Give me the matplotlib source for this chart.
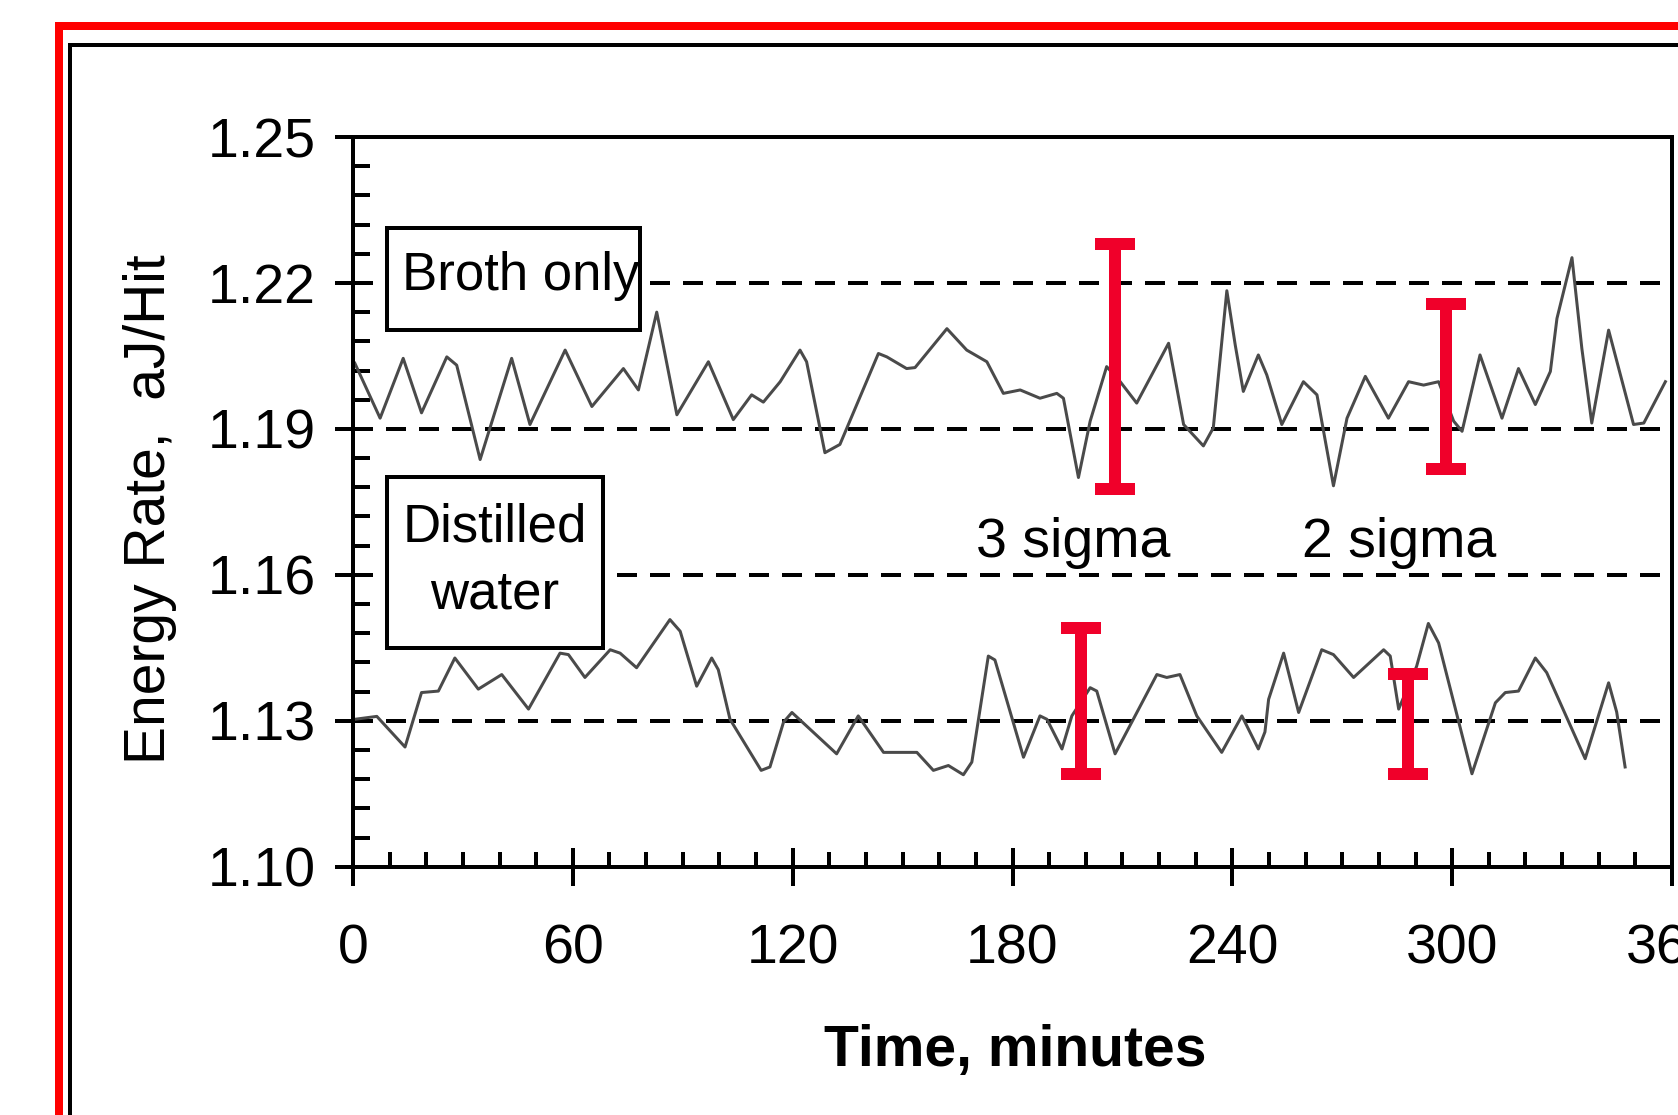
import numpy as np
import matplotlib
matplotlib.use("Agg")
import matplotlib.pyplot as plt
from matplotlib.patches import Rectangle

plt.rcParams["font.family"] = ["Liberation Sans", "DejaVu Sans"]
plt.rcParams["lines.scale_dashes"] = False

# Broth only trace (minutes, aJ/Hit)
broth_t = [0.5, 7.4, 13.7, 18.7, 25.6, 28.3, 34.7, 43.3, 48.3, 57.9, 65.2, 73.8,
           77.9, 82.9, 88.4, 97.0, 103.8, 108.8, 112.0, 116.6, 122.0, 123.8, 128.8,
           132.9, 143.4, 145.7, 151.1, 153.4, 162.1, 167.5, 173.0, 177.5, 182.1,
           187.5, 192.1, 193.9, 198.0, 201.2, 205.7, 209.4, 213.9, 222.6, 226.7,
           232.1, 234.8, 238.5, 240.8, 243.0, 247.1, 249.4, 253.5, 259.4, 263.1,
           267.6, 271.3, 276.3, 282.6, 288.1, 292.2, 296.3, 300.4, 302.7, 307.6,
           313.6, 318.1, 322.7, 326.8, 328.6, 332.7, 335.4, 338.1, 342.7, 349.5,
           352.3, 358.2]
broth_v = [1.2035, 1.1922, 1.2045, 1.1933, 1.2048, 1.2031, 1.1837, 1.2045, 1.1909,
           1.2062, 1.1946, 1.2024, 1.1980, 1.2140, 1.1929, 1.2038, 1.1919, 1.1970,
           1.1955, 1.1997, 1.2062, 1.2038, 1.1851, 1.1868, 1.2055, 1.2048, 1.2024,
           1.2026, 1.2106, 1.2062, 1.2038, 1.1973, 1.1980, 1.1963, 1.1973, 1.1963,
           1.1800, 1.1916, 1.2028, 1.1997, 1.1953, 1.2076, 1.1909, 1.1865, 1.1902,
           1.2184, 1.2072, 1.1977, 1.2052, 1.2011, 1.1909, 1.1997, 1.1970, 1.1783,
           1.1922, 1.2008, 1.1922, 1.1997, 1.1990, 1.1997, 1.1916, 1.1895, 1.2052,
           1.1922, 1.2024, 1.1950, 1.2018, 1.2127, 1.2252, 1.2065, 1.1912, 1.2103,
           1.1909, 1.1912, 1.1997]

# Distilled water trace
water_t = [0.5, 6.5, 14.2, 18.7, 23.3, 27.8, 34.2, 40.6, 47.9, 56.5, 58.8, 63.3,
           70.2, 72.9, 77.4, 86.5, 89.3, 93.8, 97.9, 99.7, 102.9, 111.4, 113.8,
           117.5, 119.8, 132.0, 137.9, 144.8, 153.9, 158.4, 162.5, 166.6, 168.9,
           173.4, 175.2, 183.0, 187.5, 189.4, 193.5, 196.2, 201.2, 203.0, 208.0,
           219.4, 222.1, 225.7, 230.3, 237.1, 242.6, 247.1, 248.9, 249.9, 254.0,
           258.1, 264.4, 267.6, 273.1, 281.3, 283.1, 285.4, 290.3, 293.5, 296.3,
           305.4, 311.8, 314.5, 318.1, 322.7, 325.8, 336.3, 342.7, 344.9, 347.2]
water_v = [1.1303, 1.1309, 1.1246, 1.1358, 1.1361, 1.1429, 1.1365, 1.1395, 1.1324,
           1.1439, 1.1436, 1.1389, 1.1446, 1.1439, 1.1409, 1.1508, 1.1484, 1.1371,
           1.1429, 1.1405, 1.1303, 1.1198, 1.1205, 1.1297, 1.1317, 1.1232, 1.1310,
           1.1235, 1.1235, 1.1198, 1.1208, 1.1189, 1.1215, 1.1433, 1.1425, 1.1225,
           1.1310, 1.1303, 1.1242, 1.1310, 1.1368, 1.1361, 1.1232, 1.1395, 1.1389,
           1.1395, 1.1310, 1.1235, 1.1310, 1.1242, 1.1277, 1.1344, 1.1439, 1.1317,
           1.1446, 1.1436, 1.1389, 1.1446, 1.1433, 1.1324, 1.1412, 1.1500, 1.1460,
           1.1191, 1.1337, 1.1358, 1.1361, 1.1429, 1.1399, 1.1222, 1.1378, 1.1318,
           1.1205]

# sigma bars: position, centre, half-height
bar_t = [208.0, 298.3, 198.7, 288.0]
bar_c = [1.2028, 1.1987, 1.1341, 1.1294]
bar_h = [0.0252, 0.0169, 0.0150, 0.0103]

ref_levels = [1.13, 1.16, 1.19, 1.22]
x_ticks = [0, 60, 120, 180, 240, 300, 360]
y_ticks = [1.10, 1.13, 1.16, 1.19, 1.22, 1.25]

W, H = 1678, 1115
fig = plt.figure(figsize=(W / 100, H / 100), dpi=100)
ax = fig.add_axes([353 / W, 1 - 866.7 / H, 1319 / W, 729.7 / H])

px = 72 / 100  # one pixel in points

for lv in ref_levels:
    ax.axhline(lv, color="black", lw=4 * px, dashes=(20 * px, 13 * px), zorder=1)

ax.plot(broth_t, broth_v, color="#4a4a4a", lw=3 * px, zorder=2)
ax.plot(water_t, water_v, color="#4a4a4a", lw=3 * px, zorder=2)

ax.errorbar(bar_t, bar_c, yerr=bar_h, fmt="none", ecolor="#F0002A",
            elinewidth=12 * px, capsize=20 * px, capthick=12 * px, zorder=4)

ax.set_xlim(0, 360)
ax.set_ylim(1.10, 1.25)
ax.set_xticks(x_ticks)
ax.set_xticks(np.arange(0, 361, 10), minor=True)
ax.set_yticks(y_ticks)
ax.set_yticklabels([f"{v:.2f}" for v in y_ticks])
ax.set_yticks(np.linspace(1.10, 1.25, 26), minor=True)

for s in ax.spines.values():
    s.set_linewidth(4 * px)
ax.tick_params(axis="x", which="major", direction="inout", length=38 * px,
               width=4 * px, labelsize=40, pad=27)
ax.tick_params(axis="x", which="minor", direction="in", length=15 * px, width=4 * px)
ax.tick_params(axis="y", which="major", direction="out", length=18 * px,
               width=4 * px, labelsize=40, pad=14)
ax.tick_params(axis="y", which="minor", direction="in", length=17 * px, width=4 * px)

ax.set_ylabel("Energy Rate,  aJ/Hit", fontsize=41, va="center")
ax.yaxis.set_label_coords(-0.1539, 0.49)
ax.set_xlabel("Time, minutes", fontsize=41, fontweight="bold", va="center")
ax.xaxis.set_label_coords(0.502, -0.253)

# label boxes
ax.add_patch(Rectangle((0.0255, 0.7355), 0.1921, 0.1394, transform=ax.transAxes,
                       facecolor="white", edgecolor="black", lw=4 * px, zorder=3))
ax.text(0.0369, 0.7903, "Broth only", transform=ax.transAxes, fontsize=38,
        va="baseline", ha="left", zorder=5)
ax.add_patch(Rectangle((0.0255, 0.2993), 0.1643, 0.2352, transform=ax.transAxes,
                       facecolor="white", edgecolor="black", lw=4 * px, zorder=3))
ax.text(0.1077, 0.4454, "Distilled", transform=ax.transAxes, fontsize=38,
        va="baseline", ha="center", zorder=5)
ax.text(0.1077, 0.3545, "water", transform=ax.transAxes, fontsize=38,
        va="baseline", ha="center", zorder=5)

ax.text(0.546, 0.4245, "3 sigma", transform=ax.transAxes, fontsize=40,
        va="baseline", ha="center")
ax.text(0.793, 0.4245, "2 sigma", transform=ax.transAxes, fontsize=40,
        va="baseline", ha="center")

# frame borders (run off the right and bottom of the picture)
fig.patches.append(Rectangle((59 / W, -0.5), 2, 0.5 + (1 - 26 / H), transform=fig.transFigure,
                             fill=False, edgecolor="#FF0000", lw=8 * px))
fig.patches.append(Rectangle((70 / W, -0.5), 2, 0.5 + (1 - 45 / H), transform=fig.transFigure,
                             fill=False, edgecolor="black", lw=4 * px))

fig.savefig("out.png", dpi=100)
